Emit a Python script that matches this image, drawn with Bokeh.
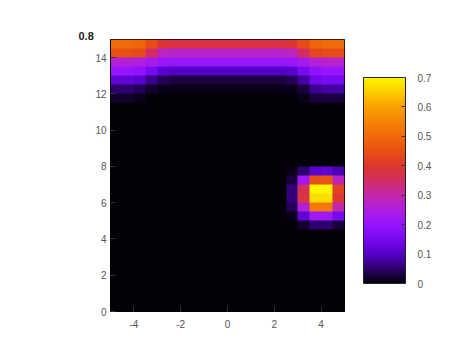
import numpy as np
from bokeh.plotting import figure
from bokeh.models import (LinearColorMapper, ColorBar, FixedTicker,
                          CustomJSTickFormatter, Range1d)
from bokeh.embed import file_html
from bokeh.resources import INLINE

# ---------------- data ----------------
X_RANGE = [-5, 5]
Y_RANGE = [0, 15]
X_TICKS = [-4, -2, 0, 2, 4]
Y_TICKS = [0, 2, 4, 6, 8, 10, 12, 14]
CB_TICKS = [0, 0.1, 0.2, 0.3, 0.4, 0.5, 0.6, 0.7]
VAL_LOW, VAL_HIGH = 0.0, 0.7
CORNER_LABEL = "0.8"

# grid of cells (0.5 x 0.5), rows listed from top (y 14.5-15) to bottom (y 0-0.5)
ROWS_TOP_DOWN = [
    [0.50, 0.50, 0.49, 0.44, 0.39, 0.38, 0.38, 0.38, 0.38, 0.38, 0.38, 0.38, 0.38, 0.38, 0.38, 0.39, 0.44, 0.49, 0.50, 0.50],
    [0.45, 0.45, 0.44, 0.35, 0.28, 0.27, 0.27, 0.27, 0.27, 0.27, 0.27, 0.27, 0.27, 0.27, 0.27, 0.28, 0.35, 0.43, 0.44, 0.44],
    [0.26, 0.26, 0.25, 0.23, 0.21, 0.21, 0.21, 0.21, 0.21, 0.21, 0.21, 0.21, 0.21, 0.21, 0.21, 0.21, 0.23, 0.26, 0.27, 0.27],
    [0.20, 0.20, 0.19, 0.15, 0.11, 0.10, 0.10, 0.10, 0.10, 0.10, 0.10, 0.10, 0.10, 0.10, 0.10, 0.11, 0.15, 0.19, 0.20, 0.20],
    [0.12, 0.12, 0.11, 0.07, 0.04, 0.03, 0.03, 0.03, 0.03, 0.03, 0.03, 0.03, 0.03, 0.03, 0.03, 0.04, 0.08, 0.14, 0.15, 0.15],
    [0.05, 0.05, 0.04, 0.02, 0.01, 0.01, 0.01, 0.01, 0.01, 0.01, 0.01, 0.01, 0.01, 0.01, 0.01, 0.01, 0.03, 0.07, 0.08, 0.08],
    [0.02, 0.02, 0.01, 0.00, 0.00, 0.00, 0.00, 0.00, 0.00, 0.00, 0.00, 0.00, 0.00, 0.00, 0.00, 0.00, 0.01, 0.03, 0.03, 0.03],
    [0.00, 0.00, 0.00, 0.00, 0.00, 0.00, 0.00, 0.00, 0.00, 0.00, 0.00, 0.00, 0.00, 0.00, 0.00, 0.00, 0.00, 0.00, 0.00, 0.00],
    [0.00, 0.00, 0.00, 0.00, 0.00, 0.00, 0.00, 0.00, 0.00, 0.00, 0.00, 0.00, 0.00, 0.00, 0.00, 0.00, 0.00, 0.00, 0.00, 0.00],
    [0.00, 0.00, 0.00, 0.00, 0.00, 0.00, 0.00, 0.00, 0.00, 0.00, 0.00, 0.00, 0.00, 0.00, 0.00, 0.00, 0.00, 0.00, 0.00, 0.00],
    [0.00, 0.00, 0.00, 0.00, 0.00, 0.00, 0.00, 0.00, 0.00, 0.00, 0.00, 0.00, 0.00, 0.00, 0.00, 0.00, 0.00, 0.00, 0.00, 0.00],
    [0.00, 0.00, 0.00, 0.00, 0.00, 0.00, 0.00, 0.00, 0.00, 0.00, 0.00, 0.00, 0.00, 0.00, 0.00, 0.00, 0.00, 0.00, 0.00, 0.00],
    [0.00, 0.00, 0.00, 0.00, 0.00, 0.00, 0.00, 0.00, 0.00, 0.00, 0.00, 0.00, 0.00, 0.00, 0.00, 0.00, 0.00, 0.00, 0.00, 0.00],
    [0.00, 0.00, 0.00, 0.00, 0.00, 0.00, 0.00, 0.00, 0.00, 0.00, 0.00, 0.00, 0.00, 0.00, 0.00, 0.00, 0.00, 0.00, 0.00, 0.00],
    [0.00, 0.00, 0.00, 0.00, 0.00, 0.00, 0.00, 0.00, 0.00, 0.00, 0.00, 0.00, 0.00, 0.00, 0.00, 0.01, 0.05, 0.11, 0.12, 0.09],
    [0.00, 0.00, 0.00, 0.00, 0.00, 0.00, 0.00, 0.00, 0.00, 0.00, 0.00, 0.00, 0.00, 0.00, 0.00, 0.03, 0.22, 0.45, 0.46, 0.28],
    [0.00, 0.00, 0.00, 0.00, 0.00, 0.00, 0.00, 0.00, 0.00, 0.00, 0.00, 0.00, 0.00, 0.00, 0.00, 0.06, 0.36, 0.70, 0.70, 0.42],
    [0.00, 0.00, 0.00, 0.00, 0.00, 0.00, 0.00, 0.00, 0.00, 0.00, 0.00, 0.00, 0.00, 0.00, 0.00, 0.06, 0.38, 0.67, 0.67, 0.40],
    [0.00, 0.00, 0.00, 0.00, 0.00, 0.00, 0.00, 0.00, 0.00, 0.00, 0.00, 0.00, 0.00, 0.00, 0.00, 0.04, 0.26, 0.53, 0.53, 0.30],
    [0.00, 0.00, 0.00, 0.00, 0.00, 0.00, 0.00, 0.00, 0.00, 0.00, 0.00, 0.00, 0.00, 0.00, 0.00, 0.01, 0.12, 0.22, 0.22, 0.15],
    [0.00, 0.00, 0.00, 0.00, 0.00, 0.00, 0.00, 0.00, 0.00, 0.00, 0.00, 0.00, 0.00, 0.00, 0.00, 0.00, 0.02, 0.05, 0.05, 0.03],
    [0.00, 0.00, 0.00, 0.00, 0.00, 0.00, 0.00, 0.00, 0.00, 0.00, 0.00, 0.00, 0.00, 0.00, 0.00, 0.00, 0.00, 0.00, 0.00, 0.00],
    [0.00, 0.00, 0.00, 0.00, 0.00, 0.00, 0.00, 0.00, 0.00, 0.00, 0.00, 0.00, 0.00, 0.00, 0.00, 0.00, 0.00, 0.00, 0.00, 0.00],
    [0.00, 0.00, 0.00, 0.00, 0.00, 0.00, 0.00, 0.00, 0.00, 0.00, 0.00, 0.00, 0.00, 0.00, 0.00, 0.00, 0.00, 0.00, 0.00, 0.00],
    [0.00, 0.00, 0.00, 0.00, 0.00, 0.00, 0.00, 0.00, 0.00, 0.00, 0.00, 0.00, 0.00, 0.00, 0.00, 0.00, 0.00, 0.00, 0.00, 0.00],
    [0.00, 0.00, 0.00, 0.00, 0.00, 0.00, 0.00, 0.00, 0.00, 0.00, 0.00, 0.00, 0.00, 0.00, 0.00, 0.00, 0.00, 0.00, 0.00, 0.00],
    [0.00, 0.00, 0.00, 0.00, 0.00, 0.00, 0.00, 0.00, 0.00, 0.00, 0.00, 0.00, 0.00, 0.00, 0.00, 0.00, 0.00, 0.00, 0.00, 0.00],
    [0.00, 0.00, 0.00, 0.00, 0.00, 0.00, 0.00, 0.00, 0.00, 0.00, 0.00, 0.00, 0.00, 0.00, 0.00, 0.00, 0.00, 0.00, 0.00, 0.00],
    [0.00, 0.00, 0.00, 0.00, 0.00, 0.00, 0.00, 0.00, 0.00, 0.00, 0.00, 0.00, 0.00, 0.00, 0.00, 0.00, 0.00, 0.00, 0.00, 0.00],
    [0.00, 0.00, 0.00, 0.00, 0.00, 0.00, 0.00, 0.00, 0.00, 0.00, 0.00, 0.00, 0.00, 0.00, 0.00, 0.00, 0.00, 0.00, 0.00, 0.00],
]

# ---------------- style ----------------
PALETTE_ANCHORS = [
    (0.00, (4, 0, 8)), (0.05, (45, 0, 110)), (0.10, (85, 0, 200)), (0.15, (120, 10, 240)),
    (0.20, (150, 20, 255)), (0.25, (175, 30, 225)), (0.30, (195, 40, 170)), (0.35, (210, 45, 100)),
    (0.40, (222, 55, 45)), (0.45, (232, 80, 20)), (0.50, (240, 105, 10)), (0.60, (250, 160, 0)),
    (0.70, (255, 245, 0)),
]


def build_palette(n=256):
    pos = np.array([a[0] for a in PALETTE_ANCHORS]) / PALETTE_ANCHORS[-1][0]
    cols = np.array([a[1] for a in PALETTE_ANCHORS], dtype=float)
    t = np.linspace(0, 1, n)
    out = []
    for ti in t:
        rgb = [np.interp(ti, pos, cols[:, k]) for k in range(3)]
        out.append("#%02x%02x%02x" % tuple(int(round(c)) for c in rgb))
    return out


palette = build_palette()
mapper = LinearColorMapper(palette=palette, low=VAL_LOW, high=VAL_HIGH)

grid = np.array(ROWS_TOP_DOWN[::-1])

FONT = "Liberation Sans"
LABEL_COLOR = "#555555"

p = figure(width=450, height=360, output_backend="svg", toolbar_location=None,
           x_range=Range1d(*X_RANGE), y_range=Range1d(*Y_RANGE),
           min_border_left=110, min_border_right=106, min_border_top=39, min_border_bottom=49,
           title=CORNER_LABEL)
p.background_fill_color = "black"
p.border_fill_color = "white"
p.outline_line_color = "black"
p.grid.visible = False

p.title.align = "left"
p.title.offset = -32
p.title.standoff = 0
p.title.text_font = FONT
p.title.text_font_size = "11px"
p.title.text_font_style = "bold"
p.title.text_color = "#222222"

p.image(image=[grid], x=X_RANGE[0], y=Y_RANGE[0], dw=X_RANGE[1] - X_RANGE[0],
        dh=Y_RANGE[1] - Y_RANGE[0], color_mapper=mapper)

fmt = CustomJSTickFormatter(code="return tick.toString()")
for ax, ticks in ((p.xaxis[0], X_TICKS), (p.yaxis[0], Y_TICKS)):
    ax.ticker = FixedTicker(ticks=ticks)
    ax.formatter = fmt
    ax.major_tick_in = 5
    ax.major_tick_out = 0
    ax.minor_tick_in = 0
    ax.minor_tick_out = 0
    ax.axis_line_color = "black"
    ax.major_tick_line_color = "#333333"
    ax.major_label_text_font = FONT
    ax.major_label_text_font_size = "10px"
    ax.major_label_text_color = LABEL_COLOR
p.xaxis.major_label_standoff = 8
p.yaxis.major_label_standoff = 4

cb = ColorBar(color_mapper=mapper, ticker=FixedTicker(ticks=CB_TICKS), formatter=fmt,
              width=42, height=206, padding=0, margin=0, location=(19, 28),
              label_standoff=12, major_tick_in=4, major_tick_out=0,
              major_tick_line_color="#333333", bar_line_color="#222222",
              border_line_color=None, background_fill_alpha=0,
              major_label_text_font=FONT, major_label_text_font_size="10px",
              major_label_text_color=LABEL_COLOR)
p.add_layout(cb, "right")

open("out.html", "w").write(file_html(p, INLINE))
